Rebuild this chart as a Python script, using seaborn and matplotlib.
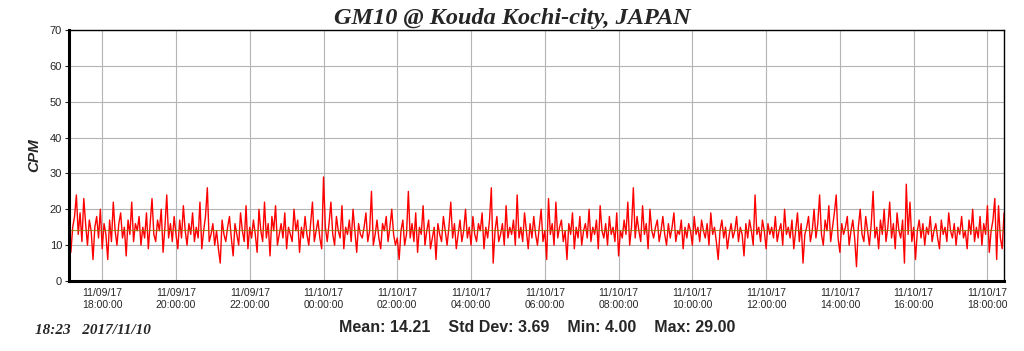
import pandas as pd
import numpy as np
import matplotlib
matplotlib.use('Agg')
import matplotlib.pyplot as plt
import matplotlib.dates as mdates
import seaborn as sns

# CPM readings (3-minute steps)
start_time = '2017-11-09 17:06'
step = '3min'
cpm = [
    12, 8, 15, 18, 24, 13, 19, 11, 23, 16, 10, 17, 14, 6, 15, 18, 12, 20, 9, 16,
    13, 6, 17, 11, 22, 14, 10, 16, 19, 12, 15, 7, 17, 13, 22, 11, 16, 14, 18, 10,
    15, 12, 19, 9, 16, 23, 13, 11, 17, 14, 20, 8, 15, 24, 12, 16, 11, 18, 13, 9,
    17, 12, 21, 14, 10, 16, 13, 19, 11, 15, 12, 22, 9, 14, 18, 26, 11, 13, 16, 10,
    14, 9, 5, 17, 13, 11, 15, 18, 12, 7, 16, 13, 10, 19, 14, 11, 21, 9, 15, 12,
    17, 13, 8, 20, 14, 11, 22, 12, 16, 7, 18, 14, 21, 10, 13, 16, 12, 19, 9, 15,
    13, 11, 20, 14, 17, 8, 15, 12, 18, 13, 10, 16, 22, 11, 14, 17, 12, 9, 29, 15,
    11, 16, 22, 13, 10, 18, 14, 12, 21, 9, 15, 13, 17, 11, 20, 14, 8, 16, 13, 12,
    15, 19, 11, 14, 25, 10, 13, 17, 12, 9, 16, 14, 18, 11, 15, 20, 13, 10, 12, 6,
    14, 17, 10, 13, 25, 12, 16, 11, 19, 8, 15, 13, 21, 10, 14, 17, 9, 12, 15, 6,
    16, 13, 11, 18, 14, 10, 15, 22, 12, 16, 9, 13, 17, 11, 14, 20, 12, 15, 10, 18,
    13, 11, 16, 14, 19, 9, 15, 12, 17, 26, 5, 14, 18, 11, 13, 16, 10, 21, 12, 15,
    13, 17, 10, 24, 12, 15, 11, 19, 14, 9, 16, 12, 18, 13, 10, 15, 20, 11, 14, 6,
    23, 13, 16, 10, 22, 12, 15, 17, 11, 14, 6, 16, 13, 19, 9, 15, 12, 18, 10, 14,
    16, 12, 20, 11, 15, 13, 17, 9, 21, 14, 12, 16, 10, 18, 13, 15, 11, 19, 7, 14,
    12, 17, 13, 22, 10, 15, 26, 12, 18, 14, 11, 21, 13, 16, 9, 20, 14, 12, 15, 17,
    11, 14, 18, 13, 10, 16, 12, 15, 19, 11, 14, 13, 17, 9, 15, 12, 16, 14, 10, 18,
    13, 15, 11, 17, 14, 12, 16, 10, 19, 13, 15, 11, 6, 14, 17, 12, 15, 9, 13, 16,
    12, 14, 18, 11, 15, 13, 7, 16, 12, 17, 14, 10, 24, 13, 15, 11, 17, 14, 9, 16,
    13, 15, 12, 18, 11, 14, 16, 10, 20, 13, 15, 12, 17, 9, 14, 19, 11, 16, 5, 13,
    15, 18, 11, 14, 20, 12, 16, 24, 13, 10, 17, 14, 21, 11, 15, 19, 24, 12, 8, 16,
    13, 15, 18, 10, 14, 17, 12, 4, 15, 20, 13, 11, 18, 14, 10, 16, 25, 12, 15, 9,
    17, 13, 20, 11, 15, 22, 12, 16, 9, 19, 14, 12, 17, 5, 27, 13, 22, 11, 15, 6,
    14, 17, 12, 16, 10, 15, 13, 18, 11, 14, 16, 12, 9, 17, 13, 15, 11, 19, 14, 12,
    16, 10, 15, 13, 18, 12, 14, 9, 17, 13, 20, 11, 15, 12, 18, 10, 16, 13, 21, 8,
    14, 17, 23, 6, 21, 12, 9, 19,
]
mean_cpm = 14.21
stats_text = 'Mean: 14.21    Std Dev: 3.69    Min: 4.00    Max: 29.00'
title = 'GM10 @ Kouda Kochi-city, JAPAN'
stamp = '18:23   2017/11/10'

df = pd.DataFrame({
    'time': pd.date_range(start_time, periods=len(cpm), freq=step),
    'cpm': cpm,
})

sns.set_style('white')
plt.rcParams['font.family'] = ['Liberation Sans', 'DejaVu Sans']

fig = plt.figure(figsize=(10.24, 3.51), dpi=100)
ax = fig.add_axes([0.0674, 0.1994, 0.9131, 0.7151])

ax.grid(True, color='#b4b4b4', linewidth=0.8)
ax.set_axisbelow(True)
sns.lineplot(data=df, x='time', y='cpm', ax=ax, color='#ff0000', linewidth=1.0)
ax.axhline(mean_cpm, color='#8c7a00', linewidth=0.8, alpha=0.8)

ax.set_ylim(0, 70)
ax.set_yticks(range(0, 71, 10))
ax.set_xlim(df['time'].iloc[0], df['time'].iloc[-1])
ax.xaxis.set_major_locator(mdates.HourLocator(byhour=range(0, 24, 2)))
ax.xaxis.set_major_formatter(mdates.DateFormatter('%m/%d/%y\n%H:%M:%S'))
ax.tick_params(axis='x', labelsize=7.5, length=0, pad=5)
ax.tick_params(axis='y', labelsize=8, length=3, width=0.8, left=True, pad=2)
for lbl in ax.get_xticklabels():
    lbl.set_linespacing(1.3)

for side in ['top', 'right']:
    ax.spines[side].set_linewidth(1.0)
    ax.spines[side].set_color('black')
for side in ['left', 'bottom']:
    ax.spines[side].set_linewidth(2.2)
    ax.spines[side].set_color('black')

ax.set_xlabel('')
ax.set_ylabel('CPM', fontsize=11, fontweight='bold', fontstyle='italic', labelpad=6)

fig.text(0.5, 0.948, title, ha='center', va='center', fontsize=17.5,
         fontweight='bold', fontstyle='italic', family='Liberation Serif')
fig.text(0.525, 0.068, stats_text, ha='center', va='center', fontsize=11.5,
         fontweight='bold', family=['Liberation Sans Narrow', 'Liberation Sans'])
fig.text(0.034, 0.057, stamp, ha='left', va='center', fontsize=11,
         fontweight='bold', fontstyle='italic', family='Liberation Serif')

fig.savefig('out.png', dpi=100, facecolor='white')
